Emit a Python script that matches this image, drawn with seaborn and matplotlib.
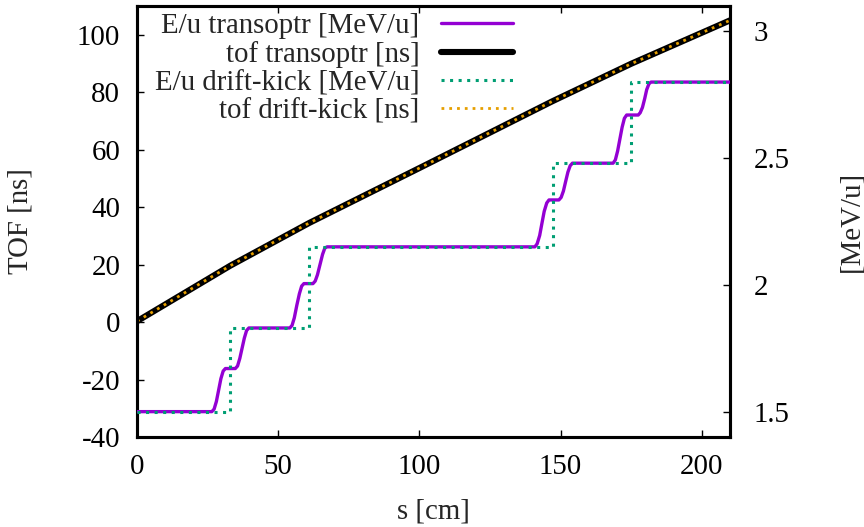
import numpy as np
import pandas as pd
import matplotlib
matplotlib.use("Agg")
import matplotlib.pyplot as plt
import seaborn as sns

# energy per nucleon along the line, transoptr run
s_transoptr = [0.0,
               26.5, 27.3, 28.1, 28.9, 29.7, 30.5, 31.3,
               34.8, 35.6, 36.4, 37.2, 38.0, 38.8, 39.6,
               54.1, 54.9, 55.7, 56.6, 57.5, 58.3, 59.1,
               62.3, 63.1, 63.9, 64.8, 65.7, 66.5, 67.3,
               140.9, 141.7, 142.6, 143.4, 144.2, 145.1, 145.9,
               149.4, 150.2, 151.0, 151.8, 152.6, 153.4, 154.2,
               168.6, 169.4, 170.2, 171.0, 171.8, 172.6, 173.4,
               177.5, 178.2, 179.0, 179.8, 180.5, 181.3, 182.0,
               210.0]
e_transoptr = [1.50,
               1.500, 1.510, 1.540, 1.585, 1.630, 1.660, 1.670,
               1.670, 1.680, 1.710, 1.750, 1.790, 1.820, 1.830,
               1.830, 1.840, 1.870, 1.920, 1.965, 1.995, 2.005,
               2.005, 2.015, 2.040, 2.080, 2.120, 2.145, 2.150,
               2.150, 2.162, 2.195, 2.243, 2.290, 2.323, 2.335,
               2.335, 2.345, 2.370, 2.408, 2.445, 2.470, 2.480,
               2.480, 2.493, 2.528, 2.575, 2.622, 2.657, 2.670,
               2.670, 2.679, 2.700, 2.735, 2.770, 2.793, 2.800,
               2.800]

# drift-kick model: energy jumps at the gap centres
s_kick = [0.0, 32.9, 60.9, 147.2, 174.8, 210.0]
e_kick = [1.50, 1.83, 2.15, 2.48, 2.80, 2.80]

# time of flight [ns]
s_tof = [0.0, 33.0, 61.0, 100.0, 147.0, 175.0, 210.0]
tof_transoptr = [0.3, 19.6, 34.5, 53.6, 76.8, 89.9, 105.0]
tof_kick = [0.3, 19.6, 34.5, 53.6, 76.8, 89.9, 105.0]

PURPLE = "#9400d3"
GREEN = "#009e73"
ORANGE = "#e69f00"

sns.set_theme(style="white")
plt.rcParams["font.family"] = ["Liberation Serif", "DejaVu Serif"]
plt.rcParams["axes.unicode_minus"] = False
FS = 20.8

df_e = pd.DataFrame({"s": s_transoptr, "E": e_transoptr})
df_ek = pd.DataFrame({"s": s_kick, "E": e_kick})
df_t = pd.DataFrame({"s": s_tof, "tof": tof_transoptr})
df_tk = pd.DataFrame({"s": s_tof, "tof": tof_kick})

fig = plt.figure(figsize=(8.64, 5.27), dpi=100)
ax = fig.add_axes([0.1586, 0.1708, 0.6863, 0.8178])
ax2 = ax.twinx()

sns.lineplot(data=df_e, x="s", y="E", ax=ax2, color=PURPLE, lw=2.4,
             label="E/u transoptr [MeV/u]", zorder=3)
sns.lineplot(data=df_t, x="s", y="tof", ax=ax, color="black", lw=4.4,
             label="tof transoptr [ns]", zorder=2)
sns.lineplot(data=df_ek, x="s", y="E", ax=ax2, color=GREEN, lw=2.2,
             drawstyle="steps-post", label="E/u drift-kick [MeV/u]", zorder=4)
sns.lineplot(data=df_tk, x="s", y="tof", ax=ax, color=ORANGE, lw=2.0,
             label="tof drift-kick [ns]", zorder=3)

# gnuplot-like dotted lines for the drift-kick curves
for ln in (ax2.lines[-1], ax.lines[-1]):
    ln.set_dashes((1, 1.8))
    ln.set_dash_capstyle("butt")

ax.set_xlim(0, 210)
ax.set_ylim(-40, 110)
ax2.set_ylim(1.4, 3.1)
ax.set_xticks([0, 50, 100, 150, 200])
ax.set_yticks([-40, -20, 0, 20, 40, 60, 80, 100])
ax2.set_yticks([1.5, 2, 2.5, 3])
ax2.set_yticklabels(["1.5", "2", "2.5", "3"])

ax.tick_params(axis="both", direction="in", length=5, width=1,
               labelsize=FS, colors="black")
ax.tick_params(axis="x", top=True, bottom=True, pad=12)
ax.tick_params(axis="y", left=True, right=False, pad=12)
ax2.tick_params(axis="y", direction="in", length=5, width=1, right=True,
                left=False, labelsize=FS, pad=17, colors="black")

for a in (ax, ax2):
    for sp in a.spines.values():
        sp.set_linewidth(2.2)
        sp.set_color("black")

ax.set_xlabel("s [cm]", fontsize=FS, va="center")
ax.set_ylabel("TOF [ns]", fontsize=FS, va="center")
ax2.set_ylabel("[MeV/u]", fontsize=FS, rotation=90, va="center")
ax.xaxis.set_label_coords(0.5, -0.172)
ax.yaxis.set_label_coords(-0.197, 0.5)
ax2.yaxis.set_label_coords(1.204, 0.5)

h1, lab1 = ax.get_legend_handles_labels()
h2, lab2 = ax2.get_legend_handles_labels()
if ax.get_legend():
    ax.get_legend().remove()
handles = [h2[0], h1[0], h2[1], h1[1]]
labels = [lab2[0], lab1[0], lab2[1], lab1[1]]
ax2.legend(handles, labels, loc="upper right", bbox_to_anchor=(0.647, 1.0),
           frameon=False, markerfirst=False, fontsize=FS, handlelength=2.5,
           handletextpad=0.75, labelspacing=0.06, borderpad=0.25,
           borderaxespad=0.0)

fig.savefig("out.png", dpi=100)
